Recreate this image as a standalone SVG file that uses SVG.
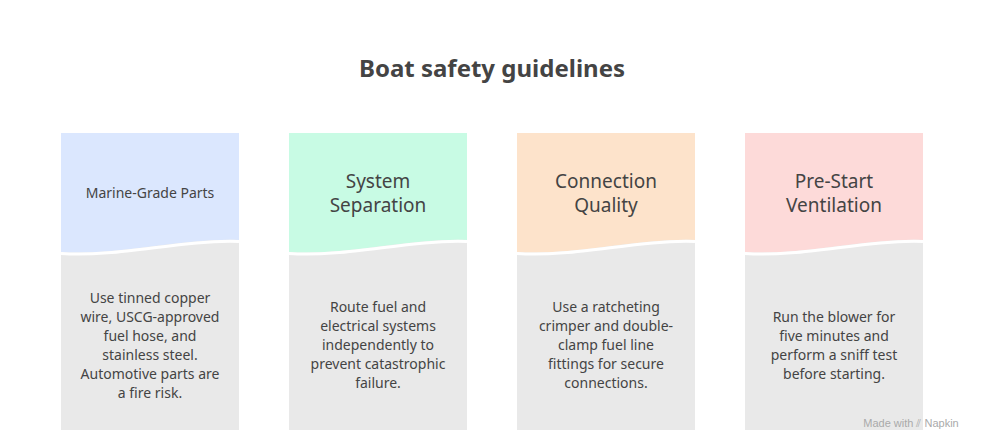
<svg xmlns="http://www.w3.org/2000/svg" width="984" height="444" viewBox="0 0 984 444">
<style>
text{font-family:"Noto Sans","DejaVu Sans",sans-serif;fill:#444;text-anchor:middle}
.t{font-size:24px;font-weight:bold}
.h{font-size:19px}
.hs{font-size:14px}
.b{font-size:14px}
.bg{fill:#e9e9e9}
.w{fill:none;stroke:#fff;stroke-width:3}
</style>
<rect width="984" height="444" fill="#fff"/>
<text class="t" x="492" y="77">Boat safety guidelines</text>
<g id="card1">
<rect class="bg" x="61" y="133" width="178" height="297"/>
<path d="M61,133H239V240C180,238 120,256 61,252Z" fill="#dbe7fe"/>
<path class="w" d="M61,253.5C120,257.5 180,239.5 239,241.5"/>
<text class="hs" x="150" y="198">Marine-Grade Parts</text>
<text class="b" x="150" y="303">Use tinned copper</text>
<text class="b" x="150" y="322">wire, USCG-approved</text>
<text class="b" x="150" y="341">fuel hose, and</text>
<text class="b" x="150" y="360">stainless steel.</text>
<text class="b" x="150" y="379">Automotive parts are</text>
<text class="b" x="150" y="398">a fire risk.</text>
</g>
<g id="card2">
<rect class="bg" x="289" y="133" width="178" height="297"/>
<path d="M289,133H467V240C408,238 348,256 289,252Z" fill="#c8fbe4"/>
<path class="w" d="M289,253.5C348,257.5 408,239.5 467,241.5"/>
<text class="h" x="378" y="188">System</text>
<text class="h" x="378" y="212">Separation</text>
<text class="b" x="378" y="312">Route fuel and</text>
<text class="b" x="378" y="331">electrical systems</text>
<text class="b" x="378" y="350">independently to</text>
<text class="b" x="378" y="369">prevent catastrophic</text>
<text class="b" x="378" y="388">failure.</text>
</g>
<g id="card3">
<rect class="bg" x="517" y="133" width="178" height="297"/>
<path d="M517,133H695V240C636,238 576,256 517,252Z" fill="#fde3cb"/>
<path class="w" d="M517,253.5C576,257.5 636,239.5 695,241.5"/>
<text class="h" x="606" y="188">Connection</text>
<text class="h" x="606" y="212">Quality</text>
<text class="b" x="606" y="312">Use a ratcheting</text>
<text class="b" x="606" y="331">crimper and double-</text>
<text class="b" x="606" y="350">clamp fuel line</text>
<text class="b" x="606" y="369">fittings for secure</text>
<text class="b" x="606" y="388">connections.</text>
</g>
<g id="card4">
<rect class="bg" x="745" y="133" width="178" height="297"/>
<path d="M745,133H923V240C864,238 804,256 745,252Z" fill="#fddad9"/>
<path class="w" d="M745,253.5C804,257.5 864,239.5 923,241.5"/>
<text class="h" x="834" y="188">Pre-Start</text>
<text class="h" x="834" y="212">Ventilation</text>
<text class="b" x="834" y="322">Run the blower for</text>
<text class="b" x="834" y="341">five minutes and</text>
<text class="b" x="834" y="360">perform a sniff test</text>
<text class="b" x="834" y="379">before starting.</text>
</g>
<g id="connectors"/>
<text x="911" y="427" style="font-size:11px;fill:#aaa;font-family:'Liberation Sans',sans-serif">Made with ⫽ Napkin</text>
</svg>
